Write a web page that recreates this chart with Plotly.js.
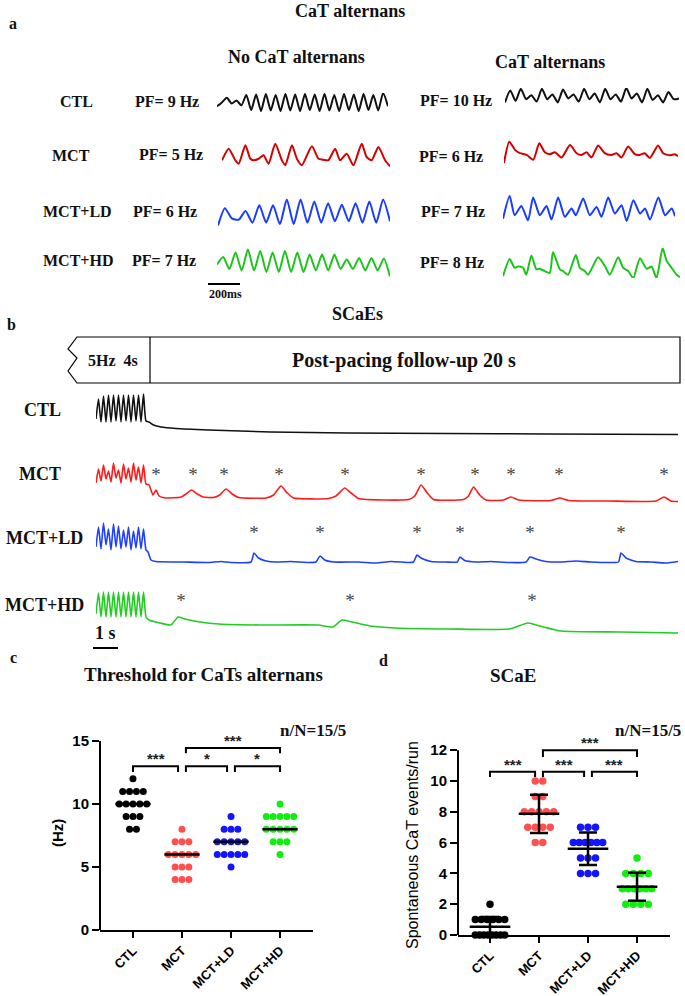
<!DOCTYPE html>
<html><head><meta charset="utf-8">
<script src="https://cdn.plot.ly/plotly-3.0.1.min.js"></script>
<style>html,body{margin:0;padding:0;background:#fff}#chart{width:685px;height:996px}</style>
</head><body><div id="chart"></div>
<script>
// ================= DATA =================
const groups = ['CTL', 'MCT', 'MCT+LD', 'MCT+HD'];
const pfNoAlt = [9, 5, 6, 7];      // Hz, no CaT alternans
const pfAlt = [10, 6, 7, 8];       // Hz, CaT alternans
const nN = '15/5';

// Panel a: CaT traces (normalised F, 0 = trough level, 1 = max)
const aCTL_no = [0.3,0.5,0.75,0.45,0.6,0.35,0.9,0.1,0.92,0.05,0.95,0.08,0.9,0.05,0.95,0.08,0.92,0.05,0.95,0.1,0.92,0.05,0.95,0.08,0.9,0.05,0.95,0.1,0.92,0.05,0.95,0.1,0.9,0.08,1.0,0.3];
const aCTL_alt = [0.1,0.85,0.2,0.95,0.3,0.55,0.15,0.95,0.3,0.6,0.1,0.9,0.35,0.6,0.15,0.95,0.3,0.65,0.1,0.95,0.3,0.6,0.15,1.0,0.35,0.65,0.1,0.95,0.25,0.55,0.1,0.75,0.3,0.35];
const aMCT_no_t = [0,43,86,108,151,183,204,237,269,301,344,387,409,452,484,516,581,624,656,688,731,763,806,849,903,935,968,1011,1054,1086];
const aMCT_no = [0.27,0.73,0.27,0.13,0.87,0.33,0.27,0.33,0.47,0.13,0.93,0.27,0.07,0.87,0.33,0.07,0.83,0.33,0.29,0.27,0.73,0.27,0.53,0.07,0.93,0.4,0.27,0.8,0.27,0.03];
const aMCT_alt_t = [0,34,71,103,146,189,228,264,297,329,372,426,469,501,533,565,608,651,694,727,759,802,845,877,909,942,995,1028,1071,1103,1124];
const aMCT_alt = [0.04,0.93,0.59,0.45,0.38,0.18,0.86,0.49,0.41,0.49,0.27,0.79,0.45,0.38,0.49,0.27,0.77,0.45,0.38,0.45,0.27,0.73,0.41,0.38,0.45,0.25,0.77,0.45,0.36,0.41,0.32];
const aLD_no = [0.05,0.65,0.3,0.25,0.55,0.15,0.75,0.15,0.75,0.1,0.95,0.1,0.95,0.15,0.88,0.15,0.82,0.2,0.77,0.2,0.82,0.15,0.88,0.15,0.95,0.2];
const aLD_alt_t = [0,43,75,118,161,194,237,280,312,355,398,441,469,516,559,602,634,677,720,763,796,839,882,914,946,1000,1043,1086,1107];
const aLD_alt = [0.12,0.96,0.25,0.59,0.06,0.91,0.25,0.59,0.09,0.91,0.19,0.5,0.25,0.875,0.25,0.56,0.19,0.91,0.31,0.62,0.04,0.81,0.31,0.5,0.09,0.91,0.25,0.5,0.21];
const aHD_no = [0.45,0.7,0.3,0.85,0.25,0.95,0.25,0.9,0.2,0.85,0.2,0.9,0.2,0.85,0.2,0.78,0.25,0.78,0.25,0.78,0.3,0.62,0.3,0.67,0.25,0.67,0.25,0.65,0.05];
const aHD_alt_t = [0,43,75,97,129,150,183,215,236,269,301,322,366,387,419,469,495,527,548,613,656,688,742,774,806,839,882,925,957,989,1028,1054,1086,1118,1140];
const aHD_alt = [0.06,0.63,0.34,0.38,0.34,0.11,0.75,0.29,0.31,0.23,0.17,0.86,0.29,0.23,0.11,0.77,0.34,0.23,0.11,0.69,0.40,0.11,0.69,0.34,0.23,0.0,0.66,0.31,0.38,0.0,1.0,0.57,0.34,0.11,0.03];

// Panel b: 5 Hz burst (sampled every 0.1 s from t = 0) and post-pacing follow-up (t in s, F in a.u.)
const burstDt = 0.1;
const bCTL_burst = [18,38,15,41,15,42,15,42,16,42,15,42,16,42,15,42,16,42,15,43,16];
const bCTL_t = [2.12,2.3,2.6,3.2,4.5,7.0,10.0,14.0,18.0,23.28];
const bCTL_v = [15,12,10,8.5,7,5,4,3.5,3,2.5];
const bMCT_burst = [20,34,22,38,24,32,21,40,25,33,20,39,24,35,21,40,23,36,20,38,19];
const bMCT_t = [2.12,2.28,2.4,2.52,2.76,3.4,3.6,3.82,4.05,4.3,4.7,4.95,5.2,5.45,5.7,6.8,7.1,7.4,7.65,7.9,9.3,9.6,9.95,10.2,10.5,12.5,12.75,13.0,13.25,13.5,14.7,14.9,15.1,15.35,15.6,16.3,16.6,16.9,18.2,18.55,18.9,20.5,22.4,22.72,23.0,23.28];
const bMCT_v = [18,8,13,7,5,6,9,13,9,6,5.5,8,14,9,5.5,5,8,17,10,5,4.5,7,15,10,4.5,3.5,7,18,10,3.5,3.5,7,16,8,3,3,6,3,2.5,5,2.5,2,2,6,2,1.5];
const bMCT_events = [2.4,3.88,5.12,7.32,9.96,13.0,15.16,16.6,18.52,22.72];
const bLD_burst = [18,38,16,42,20,36,15,41,18,39,16,35,18,38,15,34,17,38,16,36,15];
const bLD_t = [2.08,2.2,2.4,3.5,4.5,5.0,5.4,6.2,6.32,6.5,6.8,7.2,7.8,8.5,8.8,8.96,9.15,9.5,10.5,11.2,11.8,12.5,12.7,12.84,13.0,13.4,14.0,14.45,14.56,14.75,15.2,15.8,16.5,17.2,17.36,17.6,18.0,18.6,19.2,19.8,20.6,20.9,21.0,21.2,21.6,22.2,22.8,23.28];
const bLD_v = [13,5,3.5,3,2.5,3.5,2.5,3,12,7,4,3,3.5,2.5,3,9,5,3,3,2,3.5,2.5,3,10,7,3.5,3,3,8,4.5,3,3.5,2.5,3,8,6,3.5,3,4,3,2.5,3,12,7,3.5,3,2,3.5];
const bLD_events = [6.32,8.96,12.84,14.56,17.36,21.0];
const bHD_burst = [22,43,19,44,19,44,19,44,19,44,19,44,19,44,19,44,19,44,19,44,19];
const bHD_t = [2.12,2.56,3.0,3.28,3.56,4.16,4.92,6.56,8.88,9.48,9.84,10.24,10.96,11.96,14.16,16.52,17.28,17.76,18.6,20.96,23.28];
const bHD_v = [16,13,11,19,17,14,12,11,11,9,16,14,10,8,7,7,13,10,5,4,3];
const bHD_events = [3.4,10.16,17.44];

// Panel c: threshold for CaT alternans (Hz), n = 15 per group
const thrCTL = [12,11,11,11,11,10,10,10,10,10,9,9,9,8,8];
const thrMCT = [8,7,7,7,6,6,6,6,6,5,5,5,4,4,4];
const thrLD  = [9,8,8,8,7,7,7,7,7,6,6,6,6,6,5];
const thrHD  = [10,9,9,9,9,9,8,8,8,8,8,7,7,7,6];
const sigC = [[0,1,'***'],[1,2,'*'],[2,3,'*'],[1,3,'***']];

// Panel d: spontaneous CaT events per run, n = 15 per group
const scaeCTL = [2,1,1,1,1,1,1,0,0,0,0,0,0,0,0];
const scaeMCT = [10,10,9,9,8,8,8,8,8,7,7,7,7,6,6];
const scaeLD  = [7,7,7,6,6,6,6,6,6,5,5,5,4,4,4];
const scaeHD  = [5,4,4,4,4,3,3,3,3,3,3,2,2,2,2];
const sigD = [[0,1,'***'],[1,2,'***'],[2,3,'***'],[1,3,'***']];

// ================= STYLE / LAYOUT =================
const W = 685, H = 996;
const SERIF = '"Liberation Serif", "Times New Roman", serif';
const SANS = 'Arial, "Liberation Sans", sans-serif';
const dotCol = ['#000000', '#ff4f4f', '#1414ff', '#10ee10'];
const trA = ['#111111', '#d40000', '#1a3cff', '#1cc41c'];
const trB = ['#111111', '#ff1a1a', '#1f3fff', '#22cc22'];

const data = [];
const layout = {
  width: W, height: H, margin: {l: 0, r: 0, t: 0, b: 0},
  showlegend: false, paper_bgcolor: '#fff', plot_bgcolor: 'rgba(0,0,0,0)',
  annotations: [], shapes: []
};
const px2x = p => p / W, py2y = p => 1 - p / H;

let axN = 0;
function hiddenAxes(px0, px1, py0, py1, xr, yr) {
  axN++;
  const s = axN === 1 ? '' : String(axN);
  layout['xaxis' + s] = {domain: [px2x(px0), px2x(px1)], range: xr, visible: false, anchor: 'y' + s, fixedrange: true};
  layout['yaxis' + s] = {domain: [py2y(py1), py2y(py0)], range: yr, visible: false, anchor: 'x' + s, fixedrange: true};
  return ['x' + s, 'y' + s];
}
function label(text, px, py, size, opts) {
  opts = opts || {};
  layout.annotations.push(Object.assign({
    text: text, xref: 'paper', yref: 'paper', x: px2x(px), y: py2y(py),
    xanchor: 'center', yanchor: 'middle', showarrow: false,
    font: {family: SERIF, size: size, weight: 'bold', color: '#111'}
  }, opts));
}

// ---------- Panel a ----------
label('a', 13, 24, 16);
label('CaT alternans', 350, 11, 18);
label('No CaT alternans', 296, 57, 18);
label('CaT alternans', 550, 62, 18);
const rowLab = [[76, 101], [71, 156], [77, 212], [78, 260]];
const pfL = [[167, 101], [171, 155], [165, 212], [164, 261]];
const pfR = [[456, 100], [451, 157], [453, 212], [452, 263]];
groups.forEach((g, i) => {
  label(g, rowLab[i][0], rowLab[i][1], 16);
  label('PF= ' + pfNoAlt[i] + ' Hz', pfL[i][0], pfL[i][1], 16);
  label('PF= ' + pfAlt[i] + ' Hz', pfR[i][0], pfR[i][1], 16);
});
const idx = arr => arr.map((_, k) => k);
const aTraces = [
  {x: idx(aCTL_no), y: aCTL_no, box: [217, 388, 93, 112], c: 0},
  {x: idx(aCTL_alt), y: aCTL_alt, box: [505, 679, 88, 104], c: 0},
  {x: aMCT_no_t, y: aMCT_no, box: [222, 390, 142, 167], c: 1},
  {x: aMCT_alt_t, y: aMCT_alt, box: [504, 678, 140, 164], c: 1},
  {x: idx(aLD_no), y: aLD_no, box: [218, 390, 198, 227], c: 2},
  {x: aLD_alt_t, y: aLD_alt, box: [503, 675, 195, 222], c: 2},
  {x: idx(aHD_no), y: aHD_no, box: [217, 390, 248, 278], c: 3},
  {x: aHD_alt_t, y: aHD_alt, box: [503, 680, 248, 278], c: 3}
];
aTraces.forEach(t => {
  const xs = t.x;
  const ax = hiddenAxes(t.box[0], t.box[1], t.box[2], t.box[3], [xs[0], xs[xs.length - 1]], [0, 1]);
  data.push({type: 'scatter', mode: 'lines', x: xs, y: t.y, xaxis: ax[0], yaxis: ax[1],
    line: {color: trA[t.c], width: 2, shape: 'spline', smoothing: 0.6}, hoverinfo: 'skip', cliponaxis: false});
});
// 200 ms scale bar
layout.shapes.push({type: 'line', xref: 'paper', yref: 'paper', x0: px2x(208), x1: px2x(240), y0: py2y(284), y1: py2y(284), line: {color: '#000', width: 2}});
label('200ms', 225, 294, 12);

// ---------- Panel b ----------
label('b', 11, 324, 16);
label('SCaEs', 357, 314, 18);
const bx0 = 77, bx1 = 680, by0 = 337, by1 = 383, zx = 68, bdiv = 150;
const P = (x, y) => px2x(x).toFixed(5) + ',' + py2y(y).toFixed(5);
layout.shapes.push({type: 'path', xref: 'paper', yref: 'paper',
  path: 'M' + P(bx0, by0) + ' L' + P(bx1, by0) + ' L' + P(bx1, by1) + ' L' + P(bx0, by1) +
        ' L' + P(zx, 371) + ' L' + P(bx0, 358) + ' L' + P(zx, 349) + ' Z',
  line: {color: '#000', width: 1.2}, fillcolor: 'rgba(0,0,0,0)'});
layout.shapes.push({type: 'line', xref: 'paper', yref: 'paper', x0: px2x(bdiv), x1: px2x(bdiv), y0: py2y(by0), y1: py2y(by1), line: {color: '#000', width: 1.2}});
label('5Hz  4s', 113, 360, 16);
label('Post-pacing follow-up 20 s', 404, 360, 20);

const bRows = [
  {burst: bCTL_burst, t: bCTL_t, v: bCTL_v, ev: [], box: [393, 437], yr: 44, star: 0, lab: 410},
  {burst: bMCT_burst, t: bMCT_t, v: bMCT_v, ev: bMCT_events, box: [455, 503], yr: 48, star: 27, lab: 474},
  {burst: bLD_burst, t: bLD_t, v: bLD_v, ev: bLD_events, box: [515, 565], yr: 50, star: 31, lab: 538},
  {burst: bHD_burst, t: bHD_t, v: bHD_v, ev: bHD_events, box: [588, 636], yr: 48, star: 34, lab: 605}
];
const tEnd = 23.28;
bRows.forEach((r, i) => {
  const ax = hiddenAxes(96, 678, r.box[0], r.box[1], [0, tEnd], [0, r.yr]);
  const bt = r.burst.map((_, k) => k * burstDt);
  data.push({type: 'scatter', mode: 'lines', x: bt.concat(r.t), y: r.burst.concat(r.v),
    xaxis: ax[0], yaxis: ax[1], line: {color: trB[i], width: 1.6, shape: 'spline', smoothing: 0.5}, hoverinfo: 'skip'});
  if (r.ev.length) {
    data.push({type: 'scatter', mode: 'text', x: r.ev, y: r.ev.map(() => r.star), text: r.ev.map(() => '*'),
      textposition: 'middle center', textfont: {family: SERIF, size: 19, color: '#444'},
      xaxis: ax[0], yaxis: ax[1], hoverinfo: 'skip'});
  }
  label(groups[i], i === 0 ? 42 : (i === 1 ? 40 : 44), r.lab, 18);
});
layout.shapes.push({type: 'line', xref: 'paper', yref: 'paper', x0: px2x(93), x1: px2x(118), y0: py2y(648), y1: py2y(648), line: {color: '#000', width: 2}});
label('1 s', 105, 633, 18);

// ---------- helpers for c/d ----------
function swarm(vals, gi, gap, maxW) {
  const counts = {}, seen = {};
  vals.forEach(v => counts[v] = (counts[v] || 0) + 1);
  return vals.map(v => {
    const n = counts[v];
    const k = seen[v] = (seen[v] || 0) + 1;
    const sp = n > 1 ? Math.min(gap, maxW / (n - 1)) : 0;
    return gi + (k - 1 - (n - 1) / 2) * sp;
  });
}
const median = a => { const s = a.slice().sort((p, q) => p - q); const m = Math.floor(s.length / 2); return s.length % 2 ? s[m] : (s[m - 1] + s[m]) / 2; };
const mean = a => a.reduce((p, q) => p + q, 0) / a.length;
const sd = a => { const m = mean(a); return Math.sqrt(a.reduce((p, q) => p + (q - m) * (q - m), 0) / (a.length - 1)); };

function statAxes(n, px0, px1, pyBottom, pxPerUnit, top, xr, tickvals) {
  const s = String(n);
  layout['xaxis' + s] = {domain: [px2x(px0), px2x(px1)], range: xr, anchor: 'y' + s, fixedrange: true,
    showline: true, linewidth: 2, linecolor: '#000', ticks: 'outside', ticklen: 6, tickwidth: 2, tickcolor: '#000',
    tickvals: [0, 1, 2, 3], ticktext: groups, tickangle: -45, showgrid: false, zeroline: false,
    tickfont: {family: SANS, size: 13, weight: 'bold', color: '#000'}};
  layout['yaxis' + s] = {domain: [py2y(pyBottom), py2y(pyBottom - top * pxPerUnit)], range: [0, top], anchor: 'x' + s,
    fixedrange: true, showline: false, ticks: 'outside', ticklen: 7, tickwidth: 2, tickcolor: '#000',
    tickvals: tickvals, showgrid: false, zeroline: false,
    tickfont: {family: SANS, size: 15, weight: 'bold', color: '#000'}};
  layout.shapes.push({type: 'line', xref: 'x' + s + ' domain', yref: 'y' + s, x0: 0, x1: 0,
    y0: 0, y1: tickvals[tickvals.length - 1], line: {color: '#000', width: 2}});
  return ['x' + s, 'y' + s];
}
function brackets(ax, sig, low, high, legLow, legHigh, fontSize) {
  const xs = [], ys = [];
  sig.forEach(([a, b, txt]) => {
    const top = (b - a > 1) ? high : low;
    const leg = (b - a > 1) ? legHigh : legLow;
    const x0 = a + (a > 0 ? 0.08 : 0);
    const x1 = b - (b < 3 ? 0.08 : 0);
    xs.push(x0, x0, x1, x1, null);
    ys.push(top - leg, top, top, top - leg, null);
    layout.annotations.push({text: txt, xref: ax[0], yref: ax[1], x: (x0 + x1) / 2, y: top, yanchor: 'bottom',
      xanchor: 'center', showarrow: false, yshift: -3,
      font: {family: SANS, size: fontSize, weight: 'bold', color: '#222'}});
  });
  data.push({type: 'scatter', mode: 'lines', x: xs, y: ys, xaxis: ax[0], yaxis: ax[1],
    line: {color: '#000', width: 2}, connectgaps: false, hoverinfo: 'skip'});
}

// ---------- Panel c ----------
label('c', 13, 657, 16);
label('Threshold for CaTs alternans', 203, 674, 19);
label('n/N=' + nN, 313, 730, 17);
const axC = statAxes(13, 100, 313, 930, 12.6, 15.8, [-0.673, 3.673], [0, 5, 10, 15]);
label('(Hz)', 57, 833, 15, {textangle: -90, font: {family: SANS, size: 15, weight: 'bold', color: '#000'}});
[thrCTL, thrMCT, thrLD, thrHD].forEach((vals, gi) => {
  data.push({type: 'scatter', mode: 'markers', x: swarm(vals, gi, 0.14, 0.56), y: vals, xaxis: axC[0], yaxis: axC[1],
    marker: {color: dotCol[gi], size: 7, line: {width: 0}}, hoverinfo: 'skip', cliponaxis: false});
});
(function () {
  const xs = [], ys = [];
  [thrCTL, thrMCT, thrLD, thrHD].forEach((vals, gi) => {
    const m = median(vals); xs.push(gi - 0.36, gi + 0.36, null); ys.push(m, m, null);
  });
  data.push({type: 'scatter', mode: 'lines', x: xs, y: ys, xaxis: axC[0], yaxis: axC[1], line: {color: '#000', width: 2.5}, hoverinfo: 'skip'});
})();
brackets(axC, sigC, 13.0, 14.44, 0.46, 0.42, 15);

// ---------- Panel d ----------
label('d', 383, 660, 16);
label('SCaE', 513, 675, 19);
label('n/N=' + nN, 648, 730, 17);
const axD = statAxes(14, 458, 670, 935, 15.4, 12.9, [-0.653, 3.673], [0, 2, 4, 6, 8, 10, 12]);
label('Spontaneous CaT events/run', 412, 845, 16, {textangle: -90, font: {family: SANS, size: 16, color: '#000'}});
const scae = [scaeCTL, scaeMCT, scaeLD, scaeHD];
scae.forEach((vals, gi) => {
  data.push({type: 'scatter', mode: 'markers', x: swarm(vals, gi, 0.153, 0.6), y: vals, xaxis: axD[0], yaxis: axD[1],
    marker: {color: dotCol[gi], size: 7.5, line: {width: 0}}, hoverinfo: 'skip', cliponaxis: false});
});
data.push({type: 'scatter', mode: 'markers', x: [0, 1, 2, 3], y: scae.map(mean), xaxis: axD[0], yaxis: axD[1],
  marker: {symbol: 'line-ew', size: 29, color: '#000', line: {color: '#000', width: 2.5}},
  error_y: {type: 'data', array: scae.map(sd), visible: true, color: '#000', thickness: 2.5, width: 9},
  hoverinfo: 'skip', cliponaxis: false});
brackets(axD, sigD, 10.6, 12.0, 0.34, 0.44, 15);

Plotly.newPlot('chart', data, layout, {displayModeBar: false, staticPlot: true});
</script>
</body></html>
